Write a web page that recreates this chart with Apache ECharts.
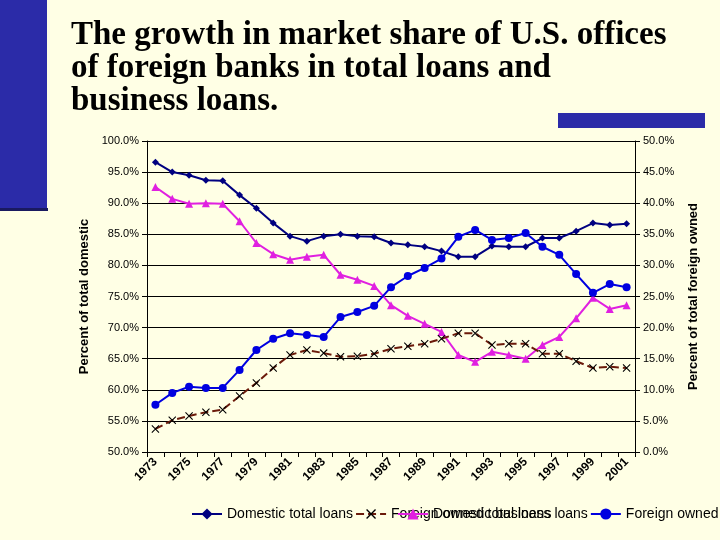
<!DOCTYPE html>
<html><head><meta charset="utf-8">
<script src="https://cdn.jsdelivr.net/npm/echarts@6/dist/echarts.min.js"></script>
<style>html,body{margin:0;padding:0;background:#FFFFE5;}#c{width:720px;height:540px;}</style>
</head><body><div id="c"></div>
<script>
const years = [];
for (let y = 1973; y <= 2001; y++) years.push(String(y));
const domesticTotal = [96.6,95.0,94.5,93.7,93.6,91.3,89.2,86.8,84.7,83.9,84.7,85.0,84.7,84.6,83.6,83.3,83.0,82.3,81.4,81.4,83.1,83.0,83.0,84.4,84.4,85.5,86.8,86.5,86.7];
const domesticBusiness = [92.6,90.7,89.9,90.0,89.9,87.1,83.6,81.8,80.9,81.4,81.7,78.5,77.7,76.7,73.6,71.9,70.6,69.3,65.6,64.5,66.1,65.6,65.0,67.2,68.5,71.5,74.8,73.0,73.6];
const foreignTotal = [3.7,5.1,5.8,6.4,6.8,9.0,11.1,13.5,15.6,16.4,15.9,15.3,15.4,15.8,16.6,17.0,17.4,18.2,19.1,19.1,17.2,17.4,17.4,15.8,15.8,14.6,13.5,13.7,13.5];
const foreignBusiness = [7.6,9.5,10.5,10.3,10.3,13.2,16.4,18.2,19.1,18.8,18.5,21.7,22.5,23.5,26.5,28.3,29.6,31.1,34.6,35.7,34.1,34.4,35.2,33.0,31.7,28.6,25.6,27.0,26.5];

const chart = echarts.init(document.getElementById('c'));
const lbl = {fontFamily:'Liberation Sans, Arial', fontSize:11, color:'#000'};
const legText = {fontFamily:'Liberation Sans, Arial',fontSize:14,color:'#000'};
chart.setOption({
  backgroundColor:'#FFFFE5',
  animation:false,
  title:{text:'The growth in market share of U.S. offices\nof foreign banks in total loans and\nbusiness loans.',left:66,top:14,
    textStyle:{fontFamily:'Liberation Serif, Times New Roman',fontWeight:'bold',fontSize:33,lineHeight:33,color:'#000'}},
  graphic:[
    {type:'rect',shape:{x:558,y:113,width:147,height:15},style:{fill:'#2B2BA8'}},
    {type:'rect',shape:{x:0,y:0,width:47,height:210},style:{fill:'#2B2BA8'}},
    {type:'rect',shape:{x:0,y:208,width:48,height:3},style:{fill:'#1A1A60'}}
  ],
  grid:{left:147,right:85,top:141,bottom:88},
  legend:[
    {orient:'vertical',left:186,top:502,itemWidth:30,itemGap:2,textStyle:legText,
     data:['Domestic total loans','Foreign owned total loans']},
    {orient:'vertical',left:392,top:502,itemWidth:30,itemGap:2,textStyle:legText,
     data:['Domestic business loans','Foreign owned business loans']}
  ],
  xAxis:{type:'category',data:years,boundaryGap:true,
    axisLine:{lineStyle:{color:'#000'}},axisTick:{show:true,interval:0,lineStyle:{color:'#000'}},
    axisLabel:Object.assign({},lbl,{interval:1,rotate:45,fontWeight:'bold',fontSize:12})},
  yAxis:[
    {type:'value',min:50,max:100,interval:5,name:'Percent of total domestic',nameLocation:'middle',nameGap:55,
     nameTextStyle:{fontFamily:'Liberation Sans, Arial',fontSize:13,fontWeight:'bold',color:'#000'},
     axisLine:{show:true,lineStyle:{color:'#000'}},axisTick:{show:true},
     axisLabel:Object.assign({},lbl,{formatter:v=>v.toFixed(1)+'%'}),
     splitLine:{lineStyle:{color:'#000',width:1}}},
    {type:'value',min:0,max:50,interval:5,name:'Percent of total foreign owned',nameLocation:'middle',nameGap:52,nameRotate:90,
     nameTextStyle:{fontFamily:'Liberation Sans, Arial',fontSize:13,fontWeight:'bold',color:'#000'},
     axisLine:{show:true,lineStyle:{color:'#000'}},axisTick:{show:true},
     axisLabel:Object.assign({},lbl,{formatter:v=>v.toFixed(1)+'%'}),splitLine:{show:false}}
  ],
  series:[
    {name:'Domestic total loans',type:'line',data:domesticTotal,yAxisIndex:0,symbol:'diamond',symbolSize:7,
     lineStyle:{color:'#000080',width:2},itemStyle:{color:'#000080'}},
    {name:'Domestic business loans',type:'line',data:domesticBusiness,yAxisIndex:0,symbol:'triangle',symbolSize:8,
     lineStyle:{color:'#E020E0',width:2},itemStyle:{color:'#E020E0'}},
    {name:'Foreign owned total loans',type:'line',data:foreignTotal,yAxisIndex:1,symbol:'image://data:image/svg+xml;utf8,'+encodeURIComponent('<svg xmlns="http://www.w3.org/2000/svg" width="10" height="10"><path d="M1 1L9 9M9 1L1 9" stroke="#000" stroke-width="1.2"/></svg>'),symbolSize:9,
     lineStyle:{color:'#6B1A0A',width:2,type:[8,4]},itemStyle:{color:'#6B1A0A'}},
    {name:'Foreign owned business loans',type:'line',data:foreignBusiness,yAxisIndex:1,symbol:'circle',symbolSize:8,
     lineStyle:{color:'#0000E0',width:2},itemStyle:{color:'#0000E0'}}
  ]
});
</script></body></html>
